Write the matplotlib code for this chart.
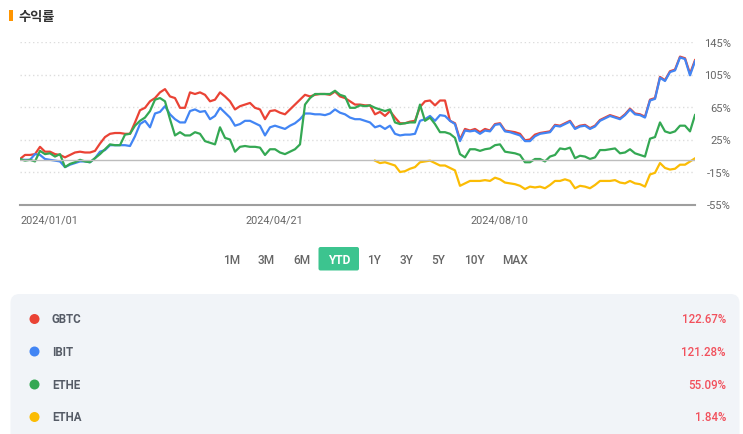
import numpy as np
import pandas as pd
import matplotlib
matplotlib.use("Agg")
from matplotlib import pyplot as plt
from matplotlib.patches import FancyBboxPatch, Circle, Rectangle

# x grid (every ~2.5 days)
dates = pd.date_range("2024-01-01", "2024-11-29", periods=136)

gbtc = [1, 6, 6, 7, 16, 10, 10, 7, 6, 3, 6, 9, 10, 9, 9, 11, 20, 28, 32, 33,
        33, 32, 32, 46, 61, 64, 72, 76, 83, 87, 78, 76, 64, 64,
        83, 81, 83, 80, 72, 74, 83, 78, 72, 62, 66, 68, 70, 64, 62, 50, 60, 61, 58, 56,
        62, 68, 74, 80, 78, 80, 81, 81, 80, 84, 78, 76, 72, 68,
        68, 67, 67, 56, 59, 54, 60, 52, 45, 45, 47, 48, 65, 72, 73, 67, 73, 73, 48, 45,
        25, 38, 36, 38, 34, 38, 36, 44, 45, 36, 35, 34, 32, 24,
        25, 31, 33, 34, 35, 43, 42, 45, 48, 39, 42, 43, 39, 42, 49, 52, 55, 53, 51, 56,
        63, 57, 56, 53, 74, 76, 102, 98, 109, 111, 127, 125, 106, 122.67]
ibit = [0, 0, 0, 7, 6, 1, 0, -1, -2, -9, -6, -4, -2, -2, -3, 2, 10, 12, 18, 18,
        18, 18, 17, 29, 44, 48, 40, 57, 59, 66, 56, 50, 46, 46,
        60, 62, 59, 60, 50, 54, 64, 58, 52, 42, 44, 48, 48, 45, 42, 30, 40, 42, 40, 38,
        42, 45, 50, 57, 57, 56, 56, 55, 57, 62, 58, 56, 52, 50,
        50, 48, 46, 40, 42, 38, 42, 32, 30, 31, 31, 32, 48, 50, 54, 48, 55, 54, 48, 44,
        23, 36, 35, 36, 32, 36, 35, 43, 44, 35, 34, 32, 30, 23,
        23, 29, 32, 33, 34, 42, 41, 44, 47, 38, 41, 42, 38, 41, 48, 51, 54, 52, 50, 55,
        62, 56, 55, 52, 73, 75, 101, 97, 108, 110, 126, 124, 104, 121.28]
ethe = [1, -1, 0, -2, 11, 7, 8, 4, 7, -9, -5, -3, 0, -2, -3, 2, 7, 13, 19, 18,
        18, 31, 32, 42, 48, 52, 60, 74, 76, 72, 50, 30, 34, 30,
        30, 34, 32, 23, 21, 19, 40, 27, 25, 10, 16, 17, 16, 16, 15, 6, 13, 13, 9, 7,
        10, 13, 19, 68, 76, 81, 81, 81, 81, 85, 80, 78, 64, 64,
        67, 66, 67, 64, 62, 60, 62, 46, 44, 45, 46, 46, 68, 48, 52, 44, 34, 34, 32, 27,
        7, 3, 13, 13, 11, 13, 14, 18, 19, 10, 9, 8, 6, -3,
        -3, 1, 1, -2, 4, 6, 14, 13, 15, 2, 5, 4, 1, 3, 12, 12, 13, 14, 8, 9,
        13, 8, 6, 4, 26, 28, 46, 35, 33, 35, 42, 42, 35, 55.09]
etha = [np.nan] * 71 + [
        -1, -4, -3, -5, -7, -15, -14, -11, -9, -3, -2, -1, -4, -7, -7, -10, -13,
        -32, -29, -26, -26, -26, -25, -26, -22, -24, -28, -29, -30, -32, -36,
        -33, -34, -33, -35, -31, -26, -26, -24, -26, -35, -32, -33, -35, -31, -26,
        -26, -26, -25, -28, -29, -26, -29, -30, -33, -18, -16, -4, -10, -12, -11,
        -6, -6, -2, 1.84]

names = ["GBTC", "IBIT", "ETHE", "ETHA"]
returns = ["122.67%", "121.28%", "55.09%", "1.84%"]
colors = ["#ea4335", "#4285f4", "#34a853", "#fbbc04"]
yticks = [145, 105, 65, 25, -15, -55]
xticks = ["2024-01-01", "2024-04-21", "2024-08-10"]
periods = ["1M", "3M", "6M", "YTD", "1Y", "3Y", "5Y", "10Y", "MAX"]

plt.rcParams['font.family'] = ['Roboto', 'DejaVu Sans']

W, H = 743, 435
fig = plt.figure(figsize=(W / 100, H / 100), dpi=100)

ax = fig.add_axes([20 / W, 1 - 205.5 / H, 675 / W, 162.5 / H])
for s, c in zip([gbtc, ibit, ethe, etha], colors):
    ax.plot(dates, s, color=c, lw=1.6, solid_joinstyle='round')
ax.axhline(0, color="#bdbdbd", lw=1)
ax.set_ylim(-55, 145)
ax.set_xlim(pd.Timestamp("2024-01-01"), pd.Timestamp("2024-11-29"))
ax.set_yticks(yticks)
ax.set_yticklabels([f"{v}%" for v in yticks])
ax.yaxis.tick_right()
ax.tick_params(axis='y', length=0, pad=26, labelsize=8, labelcolor="#666666")
for lbl in ax.get_yticklabels():
    lbl.set_ha('right')
ax.set_xticks(pd.to_datetime(xticks))
ax.set_xticklabels([d.replace("-", "/") for d in xticks])
ax.tick_params(axis='x', length=0, pad=7, labelsize=7.8, labelcolor="#666666")
for lbl in ax.get_xticklabels():
    lbl.set_ha('left')
ax.grid(axis='y', color="#dddddd", lw=1, linestyle=(0, (1, 2)))
for side in ["top", "left", "right"]:
    ax.spines[side].set_visible(False)
ax.spines["bottom"].set_color("#9e9e9e")
ax.spines["bottom"].set_linewidth(1.5)

# overlay in pixel coords for title, buttons and legend panel
ov = fig.add_axes([0, 0, 1, 1])
ov.set_xlim(0, W)
ov.set_ylim(H, 0)
ov.axis("off")

ov.add_patch(Rectangle((9, 10.5), 4, 11.5, color="#ff9500", lw=0))
ov.text(18, 16.5, "수익률", fontsize=9.5, fontweight='bold', color="#333333",
        va='center', ha='left', family=['Noto Sans CJK KR', 'DejaVu Sans'])

btn_x = [231.5, 266.5, 301.5, 338.8, 374.3, 406.7, 438.3, 474, 515]
for p, bx in zip(periods, btn_x):
    if p == "YTD":
        ov.add_patch(FancyBboxPatch((318.5, 248), 40.5, 23.5,
                                    boxstyle="round,pad=0,rounding_size=2",
                                    color="#3cc48f", lw=0))
        ov.text(bx, 260.5, p, fontsize=8.6, fontweight='bold', color="white",
                ha='center', va='center')
    else:
        ov.text(bx, 260.5, p, fontsize=8.6, fontweight='medium', color="#666666",
                ha='center', va='center')

ov.add_patch(FancyBboxPatch((10.5, 295), 729, 160,
                            boxstyle="round,pad=0,rounding_size=9",
                            color="#f1f4f8", lw=0))
row_y = [320, 352.5, 385.5, 418]
for n, r, c, ry in zip(names, returns, colors, row_y):
    ov.add_patch(Circle((34.5, ry), 5, color=c, lw=0))
    ov.text(52, ry, n, fontsize=8.3, fontweight='bold', color="#555b66",
            ha='left', va='center')
    ov.text(726, ry, r, fontsize=8.3, fontweight='medium', color="#f2505c",
            ha='right', va='center')

fig.savefig("out.png", dpi=100)
